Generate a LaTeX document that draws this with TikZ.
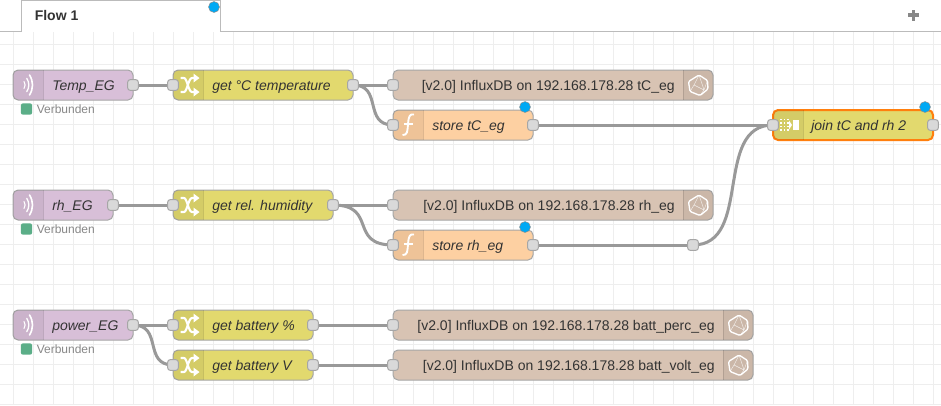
\documentclass[tikz,border=0pt]{standalone}
\usepackage{fontspec}
\setmainfont{Liberation Sans}
\definecolor{gridc}{HTML}{EEEEEE}
\definecolor{tabline}{HTML}{BBBBBB}
\definecolor{wirec}{HTML}{999999}
\definecolor{edgec}{HTML}{A6A6A6}
\definecolor{portc}{HTML}{D9D9D9}
\definecolor{mqttc}{HTML}{D8BFD8}
\definecolor{changec}{HTML}{E2D96E}
\definecolor{funcc}{HTML}{FDD0A2}
\definecolor{influxc}{HTML}{D8C3B3}
\definecolor{selc}{HTML}{FF7F0E}
\definecolor{badgec}{HTML}{00A9F4}
\definecolor{statusc}{HTML}{5BAE88}
\definecolor{statustext}{HTML}{888888}
\definecolor{labelc}{HTML}{333333}
\definecolor{tabtext}{HTML}{333333}
\pgfdeclarelayer{under}
\pgfsetlayers{under,main}
\tikzset{
  x=0.75pt,y=-0.75pt,
  flownode/.style={rectangle,draw=edgec,line width=0.75pt,rounded corners=3.75pt,minimum height=22.5pt,inner sep=0pt,outer sep=0pt,anchor=north west},
  wd/.style={minimum width=#1*0.75pt},
  selected/.style={draw=selc,line width=1.5pt},
  nodeport/.style={rectangle,draw=edgec,line width=0.75pt,fill=portc,rounded corners=2.25pt,minimum size=8.2pt,inner sep=0pt,outer sep=0pt},
  lbl/.style={inner sep=0pt,text=labelc,font=\fontsize{10.5}{12}\selectfont\itshape,anchor=base west},
  lblr/.style={inner sep=0pt,text=labelc,font=\fontsize{10.5}{12}\selectfont,anchor=base east},
  wire/.style={draw=wirec,line width=2.25pt},
  badge/.style={circle,draw=black!45,line width=0.35pt,fill=badgec,minimum size=8.2pt,inner sep=0pt},
  statusbox/.style={rectangle,fill=statusc,rounded corners=1.8pt,minimum size=8.6pt,inner sep=0pt},
  statuslbl/.style={inner sep=0pt,text=statustext,font=\fontsize{9}{11}\selectfont,anchor=base west},
  iconline/.style={draw=white,line width=1.3pt,line cap=round,line join=round},
  shadeleft/.pic={
    \begin{scope}
      \clip[rounded corners=3.75pt] (0,0) rectangle (45,30);
      \fill[black,opacity=0.06] (0,0) rectangle (30,30);
    \end{scope}
    \draw[black,opacity=0.12,line width=0.75pt] (30,0) -- (30,30);
  },
  shaderight/.pic={
    \begin{scope}
      \clip[rounded corners=3.75pt] (-15,0) rectangle (30,30);
      \fill[black,opacity=0.06] (0,0) rectangle (30,30);
    \end{scope}
    \draw[black,opacity=0.12,line width=0.75pt] (0,0) -- (0,30);
  },
  iconmqtt/.pic={
    \draw[iconline,line width=0.8pt] (11,11.5) .. controls (12.5,13.5) and (12.5,16.5) .. (11,18.5);
    \draw[iconline,line width=1.0pt] (13.8,8.5) .. controls (16.5,12.5) and (16.5,17.5) .. (13.8,21.5);
    \draw[iconline,line width=1.2pt] (16.5,5) .. controls (20.5,11.5) and (20.5,18.5) .. (16.5,25);
  },
  iconshuffle/.pic={
    \draw[iconline,line width=1.6pt,line cap=butt] (7.5,8) -- (11,8) .. controls (14,8) and (15.5,22) .. (19,22) -- (22,22);
    \draw[iconline,line width=1.6pt,line cap=butt] (7.5,22) -- (11,22) .. controls (14,22) and (15.5,8) .. (19,8) -- (22,8);
    \fill[white] (20.5,3.5) -- (26.5,8) -- (20.5,12.5) -- cycle;
    \fill[white] (20.5,17.5) -- (26.5,22) -- (20.5,26.5) -- cycle;
  },
  iconfunc/.pic={
    \draw[iconline,line width=1.4pt,line cap=butt] (21,4.5) .. controls (16.5,3.5) and (15.5,7) .. (15,14) .. controls (14.5,21) and (14.5,25.5) .. (9.5,25);
    \draw[iconline,line width=1.2pt,line cap=butt] (11,14) -- (19.5,14);
  },
  iconinflux/.pic={
    \draw[iconline,line width=1.0pt,rounded corners=1pt] (16,5) -- (24.5,10.5) -- (25,19) -- (17,25.5) -- (7,21.5) -- (5.5,11.5) -- cycle;
    \draw[white,opacity=0.75,line width=0.35pt] (16,5) -- (11,15) -- (7,21.5) (11,15) -- (21,20) -- (24.5,10.5) (21,20) -- (17,25.5) (21,20) -- (16,5);
  },
  iconjoin/.pic={
    \foreach \a in {8,11.5,15} \foreach \b in {9.5,13,16.5,20} {\fill[white] (\a-0.9,\b-0.9) rectangle (\a+0.9,\b+0.9);}
    \fill[white] (16,10.5) -- (19,15) -- (16,19.5) -- cycle;
    \fill[white] (20.3,10) rectangle (25.5,20);
  },
}
\begin{document}
\begin{tikzpicture}
\useasboundingbox (0,0) rectangle (941,405);
\begin{pgfonlayer}{under}
  \fill[white] (0,0) rectangle (941,405);
  \foreach \gx in {13,33,...,933} {\draw[gridc,line width=0.75pt] (\gx,32) -- (\gx,405);}
  \foreach \gy in {44,64,...,404} {\draw[gridc,line width=0.75pt] (0,\gy) -- (941,\gy);}
  \draw[tabline,line width=0.75pt] (0,31.5) -- (21.5,31.5) -- (21.5,0.5) -- (220.5,0.5) -- (220.5,31.5) -- (941,31.5);
\end{pgfonlayer}

\node[inner sep=0pt,text=tabtext,font=\fontsize{10.5}{12}\selectfont\bfseries,anchor=base west] (tabname) at (34.5,20) {Flow 1};
\node[badge] (tabbadge) at (214,7) {};
\fill[statustext] (907.5,13.4) rectangle (919,16.6);
\fill[statustext] (911.6,9.5) rectangle (914.9,20.5);

% row 1
\node[flownode,wd=120,fill=mqttc] (temp) at (13,70) {};
\pic at (13,70) {shadeleft}; \pic at (13,70) {iconmqtt};
\node[lbl] (templ) at ([shift={(39,20)}]temp.north west) {Temp\_EG};
\node[flownode,wd=180,fill=changec] (ctemp) at (173,70) {};
\pic at (173,70) {shadeleft}; \pic at (173,70) {iconshuffle};
\node[lbl] (ctempl) at ([shift={(39,20)}]ctemp.north west) {get °C temperature};
\node[flownode,wd=320,fill=influxc] (inft) at (393,70) {};
\pic at (683,70) {shaderight}; \pic at (683,70) {iconinflux};
\node[lblr] (inftl) at ([shift={(-38,20)}]inft.north east) {[v2.0] InfluxDB on 192.168.178.28 tC\_eg};
\node[flownode,wd=140,fill=funcc] (stt) at (393,110) {};
\pic at (393,110) {shadeleft}; \pic at (393,110) {iconfunc};
\node[lbl] (sttl) at ([shift={(39,20)}]stt.north west) {store tC\_eg};
\node[flownode,wd=160,fill=changec,selected] (join) at (773,110) {};
\pic at (773,110) {shadeleft}; \pic at (773,110) {iconjoin};
\node[lbl] (joinl) at ([shift={(38,20)}]join.north west) {join tC and rh 2};

% row 2
\node[flownode,wd=100,fill=mqttc] (rh) at (13,190) {};
\pic at (13,190) {shadeleft}; \pic at (13,190) {iconmqtt};
\node[lbl] (rhl) at ([shift={(39,20)}]rh.north west) {rh\_EG};
\node[flownode,wd=160,fill=changec] (crh) at (173,190) {};
\pic at (173,190) {shadeleft}; \pic at (173,190) {iconshuffle};
\node[lbl] (crhl) at ([shift={(39,20)}]crh.north west) {get rel. humidity};
\node[flownode,wd=320,fill=influxc] (infr) at (393,190) {};
\pic at (683,190) {shaderight}; \pic at (683,190) {iconinflux};
\node[lblr] (infrl) at ([shift={(-38,20)}]infr.north east) {[v2.0] InfluxDB on 192.168.178.28 rh\_eg};
\node[flownode,wd=140,fill=funcc] (str) at (393,230) {};
\pic at (393,230) {shadeleft}; \pic at (393,230) {iconfunc};
\node[lbl] (strl) at ([shift={(39,20)}]str.north west) {store rh\_eg};

% row 3
\node[flownode,wd=120,fill=mqttc] (pow) at (13,310) {};
\pic at (13,310) {shadeleft}; \pic at (13,310) {iconmqtt};
\node[lbl] (powl) at ([shift={(39,20)}]pow.north west) {power\_EG};
\node[flownode,wd=140,fill=changec] (batp) at (173,310) {};
\pic at (173,310) {shadeleft}; \pic at (173,310) {iconshuffle};
\node[lbl] (batpl) at ([shift={(39,20)}]batp.north west) {get battery \%};
\node[flownode,wd=140,fill=changec] (batv) at (173,350) {};
\pic at (173,350) {shadeleft}; \pic at (173,350) {iconshuffle};
\node[lbl] (batvl) at ([shift={(39,20)}]batv.north west) {get battery V};
\node[flownode,wd=360,fill=influxc] (infp) at (393,310) {};
\pic at (723,310) {shaderight}; \pic at (723,310) {iconinflux};
\node[lblr] (infpl) at ([shift={(-38,20)}]infp.north east) {[v2.0] InfluxDB on 192.168.178.28 batt\_perc\_eg};
\node[flownode,wd=360,fill=influxc] (infv) at (393,350) {};
\pic at (723,350) {shaderight}; \pic at (723,350) {iconinflux};
\node[lblr] (infvl) at ([shift={(-38,20)}]infv.north east) {[v2.0] InfluxDB on 192.168.178.28 batt\_volt\_eg};

% ports
\foreach \n in {temp,ctemp,stt,join,rh,crh,str,pow,batp,batv} {\node[nodeport] (\n-out) at (\n.east) {};}
\foreach \n in {ctemp,inft,stt,join,crh,infr,str,batp,batv,infp,infv} {\node[nodeport] (\n-in) at (\n.west) {};}
\node[nodeport] (junc) at (693,245) {};

% badges
\node[badge] (sttb) at (525,107) {};
\node[badge] (strb) at (525,227) {};
\node[badge] (joinb) at (925,107) {};

% status
\node[statusbox] (st1) at (26.5,109) {};
\node[statuslbl] (st1l) at (36.5,113) {Verbunden};
\node[statusbox] (st2) at (26.5,229) {};
\node[statuslbl] (st2l) at (36.5,233) {Verbunden};
\node[statusbox] (st3) at (26.5,349) {};
\node[statuslbl] (st3l) at (36.5,353) {Verbunden};

% wires
\begin{pgfonlayer}{under}
  \draw[wire] (temp-out.center) -- (ctemp-in.center);
  \draw[wire] (ctemp-out.center) -- (inft-in.center);
  \draw[wire] (ctemp-out.center) .. controls +(30,0) and +(-30,0) .. (stt-in.center);
  \draw[wire] (stt-out.center) -- (join-in.center);
  \draw[wire] (junc.center) .. controls +(60,0) and +(-60,0) .. (join-in.center);
  \draw[wire] (rh-out.center) -- (crh-in.center);
  \draw[wire] (crh-out.center) -- (infr-in.center);
  \draw[wire] (crh-out.center) .. controls +(45,0) and +(-45,0) .. (str-in.center);
  \draw[wire] (str-out.center) -- (junc.center);
  \draw[wire] (pow-out.center) -- (batp-in.center);
  \draw[wire] (pow-out.center) .. controls +(30,0) and +(-30,0) .. (batv-in.center);
  \draw[wire] (batp-out.center) -- (infp-in.center);
  \draw[wire] (batv-out.center) -- (infv-in.center);
\end{pgfonlayer}
\end{tikzpicture}
\end{document}
